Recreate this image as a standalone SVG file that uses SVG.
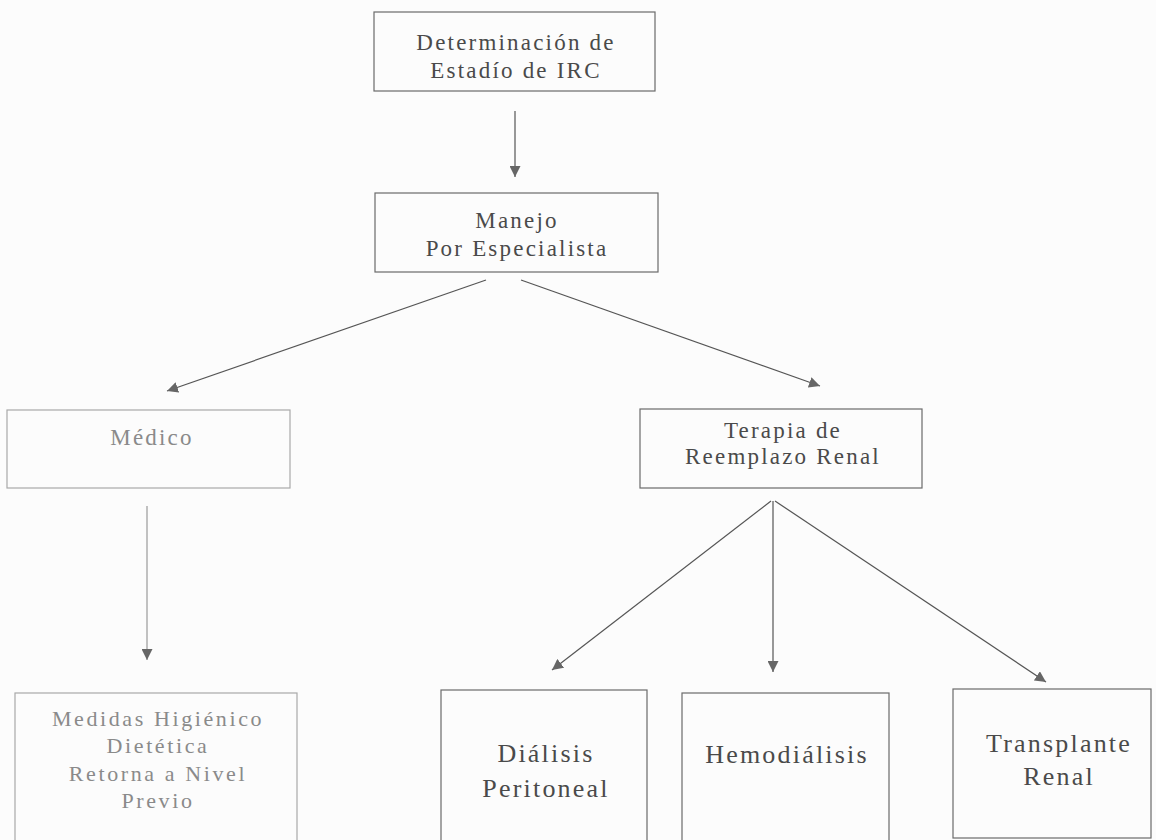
<svg xmlns="http://www.w3.org/2000/svg" width="1156" height="840" viewBox="0 0 1156 840">
<style>
.box{fill:none;stroke:#6a6a6a;stroke-width:1.2}
.faint{stroke:#a8a8a8}
.t{font-family:"Liberation Serif","Times New Roman",serif;fill:#4a4a4a;text-anchor:middle;letter-spacing:2.2px}
.pale{fill:#8a8a8a}
.m{font-size:23px}
.l{font-size:26px}
.s{font-size:22px;letter-spacing:2.6px}
.edge{stroke:#555;stroke-width:1.2;fill:none;marker-end:url(#ah)}
.edge.lt{stroke:#999}
</style>
<defs>
<marker id="ah" viewBox="0 0 10 10" refX="10" refY="5" markerWidth="11" markerHeight="11" markerUnits="userSpaceOnUse" orient="auto">
<path d="M0,0 L10,5 L0,10 z" fill="#666"/>
</marker>
</defs>
<rect width="1156" height="840" fill="#fcfcfc"/>
<g id="connectors">
<line class="edge" x1="515" y1="111" x2="515" y2="177"/>
<line class="edge" x1="486" y1="280" x2="167" y2="391"/>
<line class="edge" x1="521" y1="280" x2="820" y2="386"/>
<line class="edge lt" x1="147" y1="506" x2="147" y2="660"/>
<line class="edge" x1="771" y1="501" x2="552" y2="670"/>
<line class="edge" x1="773" y1="501" x2="773" y2="672"/>
<line class="edge" x1="775" y1="501" x2="1046" y2="682"/>
</g>
<g id="n1">
<rect class="box" x="374" y="12" width="281" height="79"/>
<text class="t m" x="516" y="50">Determinación de</text>
<text class="t m" x="516" y="78">Estadío de IRC</text>
</g>
<g id="n2">
<rect class="box" x="375" y="193" width="283" height="79"/>
<text class="t m" x="517" y="228">Manejo</text>
<text class="t m" x="517" y="256">Por Especialista</text>
</g>
<g id="n3">
<rect class="box faint" x="7" y="410" width="283" height="78"/>
<text class="t m pale" x="152" y="445">Médico</text>
</g>
<g id="n4">
<rect class="box" x="640" y="409" width="282" height="79"/>
<text class="t m" x="783" y="438">Terapia de</text>
<text class="t m" x="783" y="464">Reemplazo Renal</text>
</g>
<g id="n5">
<rect class="box faint" x="15" y="693" width="282" height="160"/>
<text class="t s pale" x="158" y="726">Medidas Higiénico</text>
<text class="t s pale" x="158" y="753">Dietética</text>
<text class="t s pale" x="158" y="781">Retorna a Nivel</text>
<text class="t s pale" x="158" y="808">Previo</text>
</g>
<g id="n6">
<rect class="box" x="441" y="690" width="206" height="160"/>
<text class="t l" x="546" y="762">Diálisis</text>
<text class="t l" x="546" y="797">Peritoneal</text>
</g>
<g id="n7">
<rect class="box" x="682" y="693" width="207" height="160"/>
<text class="t l" x="787" y="763">Hemodiálisis</text>
</g>
<g id="n8">
<rect class="box" x="953" y="689" width="198" height="149"/>
<text class="t l" x="1059" y="752">Transplante</text>
<text class="t l" x="1059" y="785">Renal</text>
</g>
</svg>
